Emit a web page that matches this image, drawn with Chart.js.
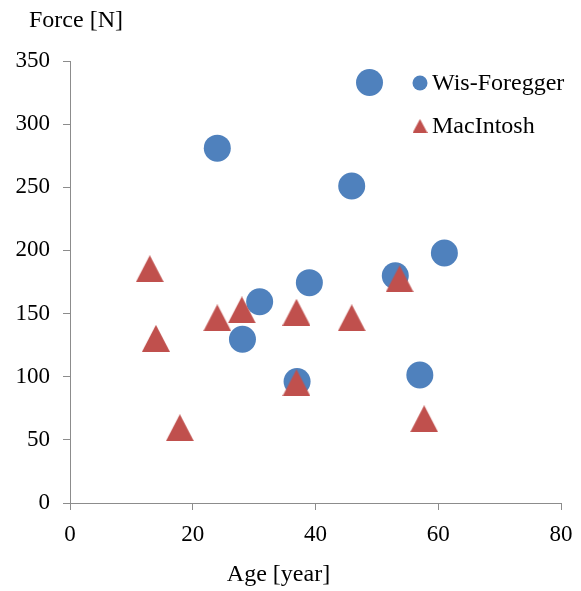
<!DOCTYPE html>
<html>
<head>
    <title>Force vs Age</title>
    <style>
        body {
            margin: 0;
            padding: 0;
            background-color: #FFFFFF;
        }

        #chart-container {
            width: 581px;
            height: 591px;
        }
    </style>
</head>
<body>
    <div id="chart-container">
        <canvas id="chart" width="581" height="591"></canvas>
    </div>

    <script src="https://cdn.jsdelivr.net/npm/chart.js"></script>
    <script>
        // Wis-Foregger (circles)
        var wisAge = [24, 48.8, 45.9, 61, 39, 53, 30.9, 28.1, 37, 57];
        var wisForce = [281, 333, 251, 198, 174.5, 180, 159.3, 129.7, 96.2, 101.3];

        // MacIntosh (triangles)
        var macAge = [13, 14, 17.9, 24, 28, 36.9, 36.9, 45.9, 53.7, 57.7];
        var macForce = [185.5, 130.4, 59.6, 146.6, 152.9, 151, 95.2, 146.6, 177.5, 66.7];

        var xTicks = [0, 20, 40, 60, 80];
        var yTicks = [0, 50, 100, 150, 200, 250, 300, 350];

        var seriesNames = ['Wis-Foregger', 'MacIntosh'];
        var xTitle = 'Age [year]';
        var yTitle = 'Force [N]';

        var blue = '#4F81BD';
        var red = '#C0504D';
        var axisColor = '#8C8C8C';
        var serif = '"Liberation Serif", "Times New Roman", serif';

        function toPoints(xs, ys) {
            return xs.map(function(x, i) { return { x: x, y: ys[i] }; });
        }

        // triangle marker centred on its bounding box, like the original
        function triangleImage(w, h, color) {
            var c = document.createElement('canvas');
            c.width = w;
            c.height = h;
            var g = c.getContext('2d');
            g.fillStyle = color;
            g.beginPath();
            g.moveTo(w / 2, 0);
            g.lineTo(w, h);
            g.lineTo(0, h);
            g.closePath();
            g.fill();
            return c;
        }
        var bigTriangle = triangleImage(28, 27, red);
        var smallTriangle = triangleImage(15, 14, red);

        // Legend inside the plot and the two axis titles
        var extras = {
            id: 'extras',
            afterDraw: function(chart) {
                var ctx = chart.ctx;
                ctx.save();
                ctx.fillStyle = '#000000';
                ctx.font = '24px ' + serif;
                ctx.textBaseline = 'alphabetic';
                ctx.textAlign = 'left';
                ctx.fillText(yTitle, 29, 27);
                ctx.textAlign = 'center';
                ctx.fillText(xTitle, 278.5, 581);

                ctx.textAlign = 'left';
                ctx.textBaseline = 'middle';
                // circle
                ctx.fillStyle = blue;
                ctx.beginPath();
                ctx.arc(420, 83, 7.5, 0, Math.PI * 2);
                ctx.fill();
                ctx.fillStyle = '#000000';
                ctx.fillText(seriesNames[0], 432, 84);
                // triangle
                ctx.drawImage(smallTriangle, 420 - 7.5, 126 - 7);
                ctx.fillText(seriesNames[1], 432, 127);
                ctx.restore();
            }
        };

        var ctx = document.getElementById('chart').getContext('2d');
        var chart = new Chart(ctx, {
            type: 'scatter',
            data: {
                datasets: [{
                    label: seriesNames[0],
                    data: toPoints(wisAge, wisForce),
                    pointStyle: 'circle',
                    pointRadius: 13.5,
                    backgroundColor: blue,
                    borderColor: blue,
                    borderWidth: 0,
                    order: 1
                }, {
                    label: seriesNames[1],
                    data: toPoints(macAge, macForce),
                    pointStyle: bigTriangle,
                    pointRadius: 14,
                    backgroundColor: red,
                    borderColor: red,
                    borderWidth: 0,
                    order: 0
                }]
            },
            options: {
                responsive: false,
                animation: false,
                layout: {
                    padding: { top: 61, right: 20, left: 0, bottom: 0 }
                },
                plugins: {
                    legend: { display: false },
                    tooltip: { enabled: false }
                },
                scales: {
                    x: {
                        type: 'linear',
                        min: 0,
                        max: 80,
                        afterBuildTicks: function(s) {
                            s.ticks = xTicks.map(function(v) { return { value: v }; });
                        },
                        afterFit: function(s) {
                            s.height = 88;
                            s.paddingRight = 0;
                            s.paddingLeft = 0;
                        },
                        border: { display: true, color: axisColor, width: 1 },
                        grid: { drawOnChartArea: false, color: axisColor, tickLength: 7 },
                        ticks: {
                            color: '#000000',
                            padding: 11,
                            maxRotation: 0,
                            font: { family: serif, size: 23 }
                        }
                    },
                    y: {
                        type: 'linear',
                        min: 0,
                        max: 350,
                        afterBuildTicks: function(s) {
                            s.ticks = yTicks.map(function(v) { return { value: v }; });
                        },
                        afterFit: function(s) { s.width = 70; },
                        border: { display: true, color: axisColor, width: 1 },
                        grid: { drawOnChartArea: false, color: axisColor, tickLength: 7 },
                        ticks: {
                            color: '#000000',
                            padding: 13,
                            font: { family: serif, size: 23 }
                        }
                    }
                }
            },
            plugins: [extras]
        });
    </script>
</body>
</html>
